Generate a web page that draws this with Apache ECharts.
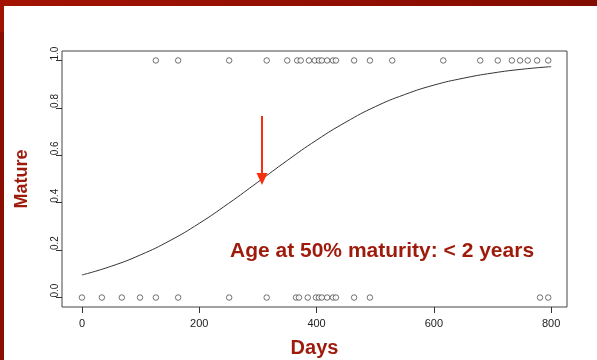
<!DOCTYPE html>
<html>
<head>
<meta charset="utf-8">
<script src="https://cdn.jsdelivr.net/npm/echarts@6/dist/echarts.min.js"></script>
<style>
html,body{margin:0;padding:0;background:#fff;}
#c{width:597px;height:360px;}
</style>
</head>
<body>
<div id="c"></div>
<script>
// Data
const matureDays = [126, 164, 251, 315, 350, 367, 373, 387, 397, 404, 409, 418, 428, 433, 464, 491, 529, 616, 679, 709, 733, 747, 760, 776, 795];
const immatureDays = [0, 34, 68, 99, 126, 164, 251, 315, 365, 370, 385, 399, 404, 409, 418, 428, 433, 464, 491, 781, 795];
const curveDays = [0, 50, 100, 150, 200, 250, 300, 350, 400, 450, 500, 550, 600, 650, 700, 750, 800];
const curveProb = [0.095, 0.132, 0.180, 0.240, 0.313, 0.397, 0.487, 0.578, 0.664, 0.740, 0.805, 0.856, 0.896, 0.925, 0.947, 0.963, 0.974];
const xTicks = [0, 200, 400, 600, 800];
const yTicks = [0, 0.2, 0.4, 0.6, 0.8, 1.0];
const age50 = 307;
const arrowFrom = 0.766, arrowTo = 0.5;
const annotation = 'Age at 50% maturity: < 2 years';

const chart = echarts.init(document.getElementById('c'), null, {renderer: 'canvas'});
const font = '"Liberation Sans", Arial, Helvetica, sans-serif';
const red = '#9e1a0b';

chart.setOption({
  animation: false,
  backgroundColor: '#ffffff',
  grid: {left: 62, top: 51, width: 505, height: 256, show: true, borderColor: '#444', borderWidth: 1,
    backgroundColor: 'transparent', containLabel: false, outerBoundsMode: 'none'},
  xAxis: {
    type: 'value', min: -34, max: 827,
    axisLine: {show: false, onZero: false},
    splitLine: {show: false},
    axisTick: {show: true, length: 6, customValues: xTicks, lineStyle: {color: '#333', width: 1}},
    axisLabel: {customValues: xTicks, margin: 11, fontSize: 11, color: '#222', fontFamily: font},
    name: 'Days', nameLocation: 'middle', nameGap: 31,
    nameTextStyle: {fontSize: 20, fontWeight: 'bold', color: red, fontFamily: font}
  },
  yAxis: {
    type: 'value', min: -0.04, max: 1.04,
    axisLine: {show: false, onZero: false},
    splitLine: {show: false},
    axisTick: {show: true, length: 6, customValues: yTicks, lineStyle: {color: '#333', width: 1}},
    axisLabel: {customValues: yTicks, rotate: 90, align: 'left', verticalAlign: 'bottom', margin: 2, fontSize: 10, color: '#222', fontFamily: font,
      formatter: v => v.toFixed(1)},
    name: 'Mature', nameLocation: 'middle', nameGap: 31, nameRotate: 90,
    nameTextStyle: {fontSize: 18, fontWeight: 'bold', color: red, fontFamily: font}
  },
  series: [
    {
      type: 'line', data: curveDays.map((d, i) => [d, curveProb[i]]),
      smooth: true, showSymbol: false, symbol: 'none',
      lineStyle: {color: '#333', width: 1}, z: 2,
      markLine: {
        silent: true, symbol: ['none', 'triangle'], symbolSize: [11, 12], symbolRotate: 180,
        lineStyle: {color: '#f5300f', width: 2, type: 'solid'},
        label: {show: false},
        data: [[{coord: [age50, arrowFrom]}, {coord: [age50, arrowTo]}]]
      }
    },
    {
      type: 'scatter', data: matureDays.map(d => [d, 1]),
      symbol: 'circle', symbolSize: 5.5,
      itemStyle: {color: '#fff', borderColor: '#222', borderWidth: 0.8}, z: 3
    },
    {
      type: 'scatter', data: immatureDays.map(d => [d, 0]),
      symbol: 'circle', symbolSize: 5.5,
      itemStyle: {color: '#fff', borderColor: '#222', borderWidth: 0.8}, z: 3
    }
  ],
  graphic: [
    {type: 'rect', left: 0, top: 0, z: 100, shape: {width: 597, height: 6},
      style: {fill: new echarts.graphic.LinearGradient(0, 0, 1, 0, [{offset: 0, color: '#a31300'}, {offset: 1, color: '#820c00'}])}},
    {type: 'rect', left: 0, top: 0, z: 100, shape: {width: 4, height: 32}, style: {fill: '#a11200'}},
    {type: 'rect', left: 0, top: 32, z: 100, shape: {width: 4, height: 328}, style: {fill: '#8a0e00'}},
    {type: 'text', left: 230, top: 241, z: 100,
      style: {text: annotation, fontSize: 21, fontWeight: 'bold', fill: red, fontFamily: font}}
  ]
});
</script>
</body>
</html>
